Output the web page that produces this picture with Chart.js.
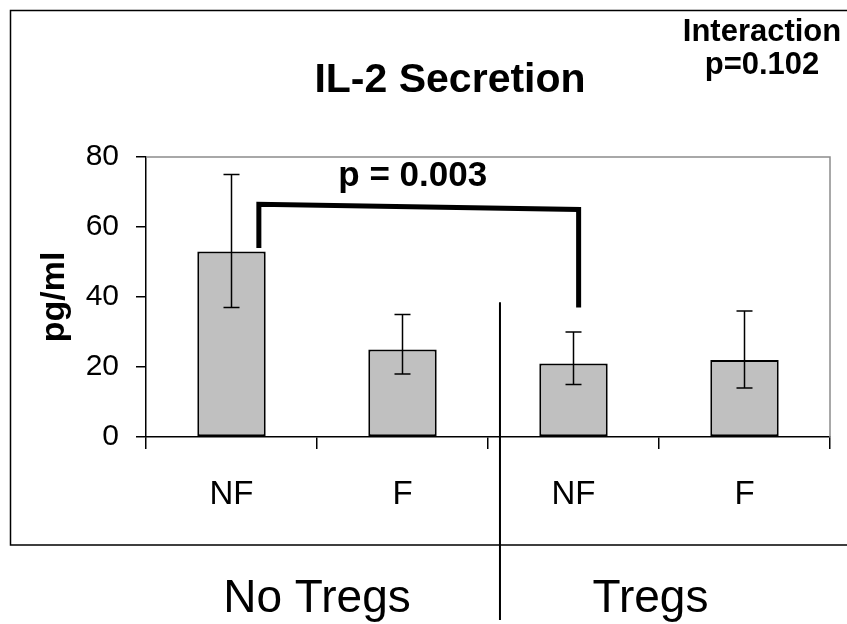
<!DOCTYPE html>
<html>
<head>
<meta charset="utf-8">
<script src="https://cdn.jsdelivr.net/npm/chart.js@4"></script>
<style>
  html, body { margin: 0; padding: 0; background: #fff; }
  #wrap { width: 847px; height: 624px; }
</style>
</head>
<body>
<div id="wrap"><canvas id="il2Chart" width="847" height="624"></canvas></div>
<script>
// chart values
const categories = ['NF', 'F', 'NF', 'F'];
const groups = ['No Tregs', 'Tregs'];
const means = [53, 25, 21, 22];
const errLow = [37, 18, 15, 14];
const errHigh = [75, 35, 30, 36];
const yTicks = [0, 20, 40, 60, 80];

// significance bracket between bar 0 and bar 2
const bracketBars = [0, 2];
const bracketLegs = [54, 37];     // bottom of each leg (pg/ml)
const bracketTop = [66.5, 65];    // top of bracket at left / right
const bracketLabel = 'p = 0.003';
const dividerFrom = 38.5;         // divider line starts here (pg/ml)

const FONT = '"Liberation Sans", Arial, sans-serif';

// pixel for a fractional category position
function catX(xs, pos) {
  const i = Math.floor(pos);
  const step = xs.getPixelForValue(1) - xs.getPixelForValue(0);
  return xs.getPixelForValue(i) + (pos - i) * step;
}

const decorations = {
  id: 'decorations',
  beforeDatasetsDraw(chart) {
    const { ctx, chartArea: a } = chart;
    ctx.save();
    // plot area border (top + right)
    ctx.strokeStyle = '#8c8c8c';
    ctx.lineWidth = 1.5;
    ctx.beginPath();
    ctx.moveTo(a.left, a.top);
    ctx.lineTo(a.right, a.top);
    ctx.lineTo(a.right, a.bottom);
    ctx.stroke();
    ctx.restore();
  },
  afterDatasetsDraw(chart) {
    const { ctx } = chart;
    const xs = chart.scales.x, ys = chart.scales.y;
    const meta = chart.getDatasetMeta(0);
    ctx.save();

    // error bars
    ctx.strokeStyle = '#000';
    ctx.lineWidth = 1.5;
    meta.data.forEach((bar, i) => {
      const x = bar.x;
      const y1 = ys.getPixelForValue(errLow[i]);
      const y2 = ys.getPixelForValue(errHigh[i]);
      ctx.beginPath();
      ctx.moveTo(x, y1); ctx.lineTo(x, y2);
      ctx.moveTo(x - 8, y1); ctx.lineTo(x + 8, y1);
      ctx.moveTo(x - 8, y2); ctx.lineTo(x + 8, y2);
      ctx.stroke();
    });

    // bracket
    const lx = catX(xs, bracketBars[0] + 0.16);
    const rx = catX(xs, bracketBars[1] + 0.03);
    ctx.lineWidth = 5;
    ctx.lineCap = 'butt';
    ctx.beginPath();
    ctx.moveTo(lx, ys.getPixelForValue(bracketLegs[0]));
    ctx.lineTo(lx, ys.getPixelForValue(bracketTop[0]));
    ctx.lineTo(rx, ys.getPixelForValue(bracketTop[1]));
    ctx.lineTo(rx, ys.getPixelForValue(bracketLegs[1]));
    ctx.stroke();

    ctx.fillStyle = '#000';
    ctx.font = 'bold 35px ' + FONT;
    ctx.textAlign = 'center';
    ctx.textBaseline = 'alphabetic';
    ctx.fillText(bracketLabel, (lx + rx) / 2 - 6, 186);

    // divider between groups
    const dx = catX(xs, 1.57);
    ctx.lineWidth = 2;
    ctx.beginPath();
    ctx.moveTo(dx, ys.getPixelForValue(dividerFrom));
    ctx.lineTo(dx, 620);
    ctx.stroke();

    // outer frame
    ctx.lineWidth = 1.5;
    ctx.beginPath();
    ctx.moveTo(852, 10.5);
    ctx.lineTo(10.5, 10.5);
    ctx.lineTo(10.5, 545);
    ctx.lineTo(852, 545);
    ctx.stroke();

    // titles
    ctx.font = 'bold 41px ' + FONT;
    ctx.fillText('IL-2 Secretion', 450, 92);
    ctx.font = 'bold 31px ' + FONT;
    ctx.fillText('Interaction', 762, 41);
    ctx.fillText('p=0.102', 762, 74);

    // group labels
    ctx.font = '46px ' + FONT;
    ctx.fillText(groups[0], catX(xs, 0.5), 612);
    ctx.fillText(groups[1], catX(xs, 2.45), 612);
    ctx.restore();
  }
};

new Chart(document.getElementById('il2Chart'), {
  type: 'bar',
  data: {
    labels: categories,
    datasets: [{
      data: means,
      backgroundColor: '#c0c0c0',
      borderColor: '#000',
      borderWidth: 2,
      borderSkipped: false,
      categoryPercentage: 1,
      barPercentage: 0.4
    }]
  },
  options: {
    responsive: false,
    animation: false,
    events: [],
    layout: { padding: { top: 157, right: 17, left: 10, bottom: 0 } },
    plugins: { legend: { display: false }, tooltip: { enabled: false }, title: { display: false } },
    scales: {
      x: {
        offset: true,
        afterFit(scale) { scale.height = 187; },
        grid: { offset: true, drawOnChartArea: false, tickLength: 12, color: '#000', lineWidth: 1.5 },
        border: { color: '#000', width: 1.5 },
        ticks: { color: '#000', font: { family: FONT, size: 33 }, padding: 26, maxRotation: 0 }
      },
      y: {
        min: 0,
        max: 80,
        afterFit(scale) { scale.width = 136; },
        afterBuildTicks(scale) { scale.ticks = yTicks.map(v => ({ value: v })); },
        grid: { drawOnChartArea: false, tickLength: 10, color: '#000', lineWidth: 1.5 },
        border: { color: '#000', width: 1.5 },
        ticks: { color: '#000', font: { family: FONT, size: 30 }, padding: 17 },
        title: {
          display: true,
          text: 'pg/ml',
          color: '#000',
          font: { family: FONT, size: 34, weight: 'bold' },
          padding: { top: 24 }
        }
      }
    }
  },
  plugins: [decorations]
});
</script>
</body>
</html>
